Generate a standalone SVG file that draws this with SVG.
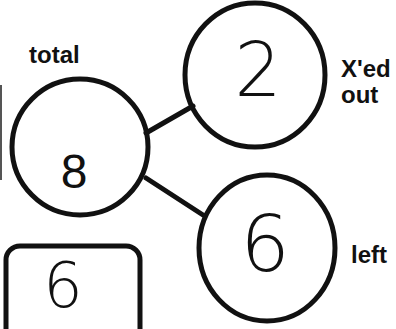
<svg xmlns="http://www.w3.org/2000/svg" width="396" height="329" viewBox="0 0 396 329">
<style>
.shape{fill:none;stroke:#111;stroke-width:5}
.conn{stroke:#111;stroke-width:5;stroke-linecap:round}
.lbl{font-family:"Liberation Sans",Arial,sans-serif;font-weight:bold;font-size:24px;fill:#111}
.hand{font-family:"DejaVu Sans","Liberation Sans",sans-serif;font-weight:200;fill:#111;text-anchor:middle}
.eight{font-family:"Liberation Sans",Arial,sans-serif;font-weight:normal;fill:#111;text-anchor:middle}
</style>
<rect width="396" height="329" fill="#fff"/>
<rect x="0" y="85" width="2" height="95" fill="#555"/>
<g id="connectors">
<line class="conn" x1="146" y1="133" x2="193" y2="106"/>
<line class="conn" x1="146" y1="178" x2="203" y2="215"/>
</g>
<g id="total">
<circle class="shape" cx="80" cy="147" r="68"/>
<text class="eight" x="74" y="188" font-size="48">8</text>
<text class="lbl" x="29" y="63">total</text>
</g>
<g id="xedout">
<ellipse class="shape" cx="255" cy="75" rx="70" ry="72"/>
<text class="hand" x="258" y="96" font-size="74">2</text>
<text class="lbl" x="341" y="77">X'ed</text>
<text class="lbl" x="341" y="103">out</text>
</g>
<g id="left">
<ellipse class="shape" cx="267" cy="248" rx="68" ry="73"/>
<text class="hand" x="265" y="271" font-size="78">6</text>
<text class="lbl" x="351" y="263">left</text>
</g>
<g id="answer">
<rect class="shape" x="6" y="246" width="134" height="100" rx="14"/>
<text class="hand" x="63" y="307" font-size="62">6</text>
</g>
</svg>
